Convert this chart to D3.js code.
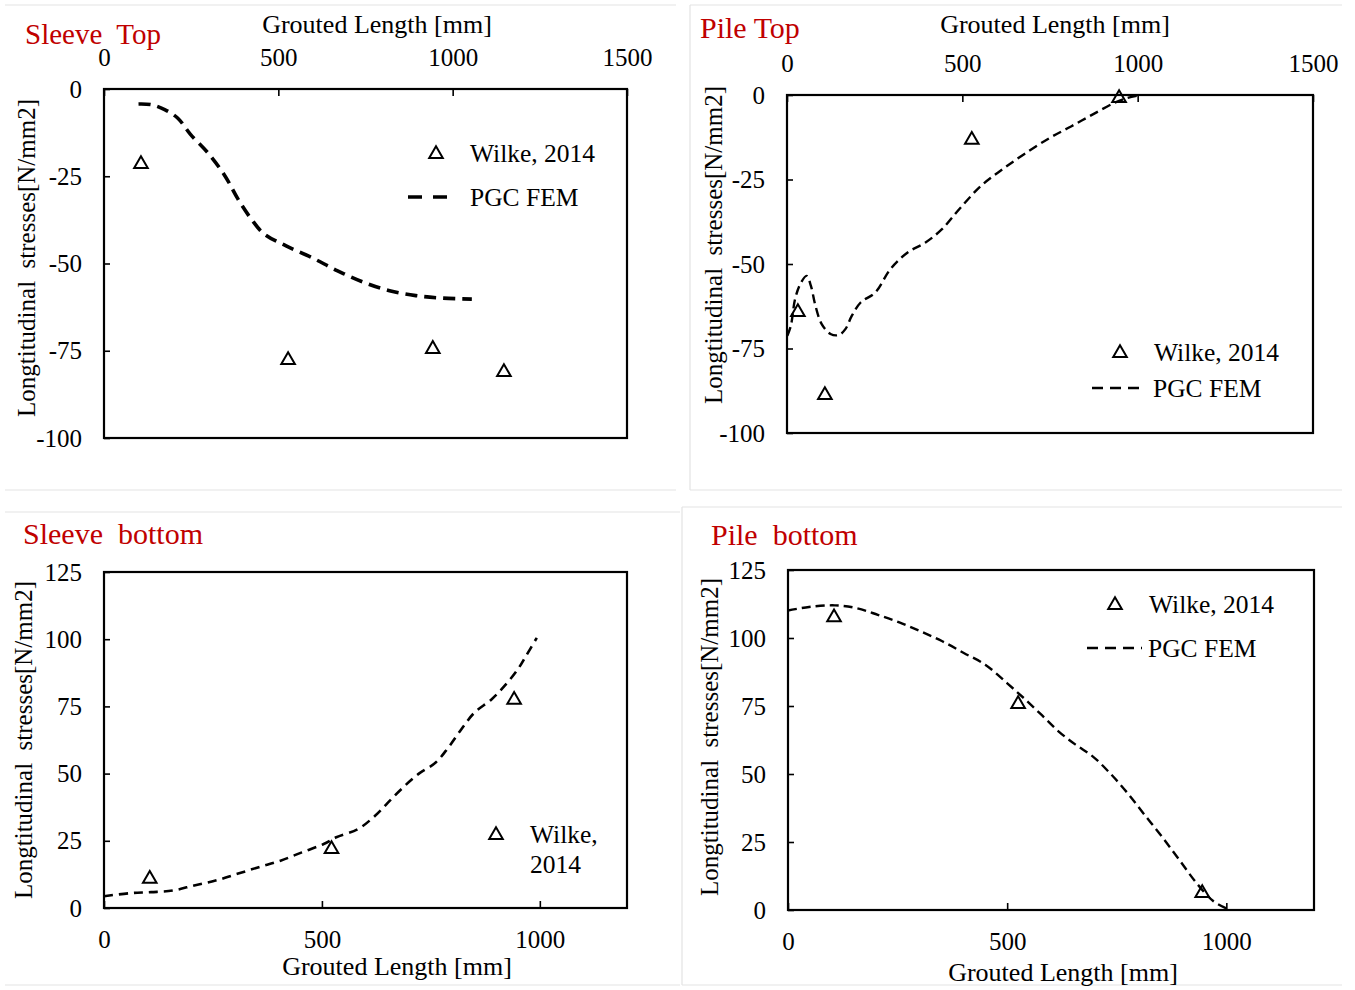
<!DOCTYPE html>
<html>
<head>
<meta charset="utf-8">
<script src="https://cdn.jsdelivr.net/npm/d3@7"></script>
<style>
  body { margin: 0; background: #fff; }
  text { font-family: "Liberation Serif", "Times New Roman", serif; white-space: pre; }
</style>
</head>
<body>
<svg id="chart" width="1355" height="990"></svg>
<script>
// tick values
const topXTicks = [0, 500, 1000, 1500];
const bottomXTicks = [0, 500, 1000];
const negYTicks = [0, -25, -50, -75, -100];
const posYTicks = [0, 25, 50, 75, 100, 125];

const panelTitles = ["Sleeve  Top", "Pile Top", "Sleeve  bottom", "Pile  bottom"];
const xTitle = "Grouted Length [mm]";
const yTitle = "Longtitudinal  stresses[N/mm2]";
const testName = "Wilke, 2014";
const femName = "PGC FEM";

// [grouted length mm, stress N/mm2]
const sleeveTopWilke = [[106, -21.2], [528, -77.4], [943, -74.2], [1147, -80.8]];
const sleeveTopFem = [[99, -4.3], [136, -4.5], [174, -5.9], [211, -8.3], [248, -13], [298, -18.3],
  [347, -24.9], [384, -31.5], [422, -37.2], [459, -41.5], [521, -44.9], [596, -48.3],
  [670, -52.1], [745, -55.4], [819, -57.8], [894, -59.2], [968, -59.9], [1055, -60.2]];

const pileTopWilke = [[31, -63.9], [108, -88.5], [527, -13], [947, -0.6]];
const pileTopFem = [[1, -71.2], [11, -68.3], [23, -60.4], [38, -55.9], [56, -53.5], [68, -56.4],
  [81, -62.3], [99, -67.8], [124, -70.7], [148, -71], [167, -69.2], [185, -65.3], [210, -61.4],
  [252, -58.4], [295, -51.5], [344, -46.6], [394, -43.7], [442, -39.7], [491, -33.8],
  [553, -26.9], [614, -22], [675, -17.6], [749, -12.7], [810, -9.3], [871, -5.8],
  [932, -2.4], [969, -0.9], [1000, -0.2]];

const sleeveBottomWilke = [[105, 11.2], [522, 22.3], [941, 77.8]];
const sleeveBottomFem = [[0, 4.4], [59, 5.5], [108, 5.9], [158, 6.5], [207, 8.4], [256, 10.2],
  [306, 12.7], [355, 15.2], [405, 17.6], [454, 20.7], [504, 23.8], [533, 26.3], [583, 29.4],
  [622, 34.3], [652, 39.3], [682, 44.2], [721, 49.8], [761, 54.1], [790, 59.7], [820, 66.5],
  [850, 72.7], [889, 77.6], [919, 82.6], [949, 88.7], [968, 93.7], [993, 100.5]];

const pileBottomWilke = [[105, 108], [525, 76.1], [945, 6.6]];
const pileBottomFem = [[0, 110.1], [48, 111.4], [107, 112], [156, 111], [205, 108.5], [254, 105.7],
  [303, 102.4], [352, 98.8], [401, 94.5], [450, 90.2], [499, 83.5], [538, 77.9], [578, 71.8],
  [617, 65.7], [656, 60.8], [695, 56.5], [734, 50.4], [774, 43.1], [813, 35.1], [852, 27.2],
  [892, 18.6], [931, 10.1], [970, 3.3], [1000, 0.6]];

const svg = d3.select("#chart");

// faint frames around the four pasted figures
const frames = [
  [[5, 5], [676, 5]], [[5, 490], [676, 490]],
  [[690, 5], [1342, 5]], [[690, 5], [690, 490]], [[690, 490], [1342, 490]],
  [[5, 512], [680, 512]], [[5, 985], [680, 985]],
  [[682, 507], [1342, 507]], [[682, 507], [682, 985]], [[682, 985], [1342, 985]]
];
svg.append("g").selectAll("line").data(frames).enter().append("line")
  .attr("x1", d => d[0][0]).attr("y1", d => d[0][1])
  .attr("x2", d => d[1][0]).attr("y2", d => d[1][1])
  .attr("stroke", "#e3e3e3").attr("stroke-width", 1.2);

const panels = [
  { title: panelTitles[0], titleSize: 29, titlePos: [25, 44], box: [104, 89, 523, 349], xDom: [0, 1500], xTicks: topXTicks,
    yDom: [-100, 0], yTicks: negYTicks, xAxisTop: true, xTitlePos: [377, 33], yTitlePos: [26, 258],
    test: sleeveTopWilke, fem: sleeveTopFem, femWidth: 3.6, dash: "12,7",
    legend: { tri: [436, 153], text: [470, 153], line: [[408, 452], 197], text2: [470, 197], dash2: "14,11" } },
  { title: panelTitles[1], titleSize: 30, titlePos: [700, 38], box: [787, 95, 526, 338], xDom: [0, 1500], xTicks: topXTicks,
    yDom: [-100, 0], yTicks: negYTicks, xAxisTop: true, xTitlePos: [1055, 33], yTitlePos: [713, 245],
    test: pileTopWilke, fem: pileTopFem, femWidth: 2.4, dash: "9,5",
    legend: { tri: [1120, 352], text: [1154, 352], line: [[1092, 1146], 388], text2: [1153, 388], dash2: "11,7" } },
  { title: panelTitles[2], titleSize: 30, titlePos: [23, 544], box: [104, 572, 523, 336], xDom: [0, 1200], xTicks: bottomXTicks,
    yDom: [0, 125], yTicks: posYTicks, xAxisTop: false, xTitlePos: [397, 975], yTitlePos: [23, 740],
    test: sleeveBottomWilke, fem: sleeveBottomFem, femWidth: 2.6, dash: "9,6",
    legend: { tri: [496, 834], text: [530, 834], text2: [530, 864], split: true } },
  { title: panelTitles[3], titleSize: 30, titlePos: [711, 545], box: [788, 570, 526, 340], xDom: [0, 1200], xTicks: bottomXTicks,
    yDom: [0, 125], yTicks: posYTicks, xAxisTop: false, xTitlePos: [1063, 981], yTitlePos: [709, 737],
    test: pileBottomWilke, fem: pileBottomFem, femWidth: 2.4, dash: "9,5",
    legend: { tri: [1115, 604], text: [1149, 604], line: [[1087, 1142], 648], text2: [1148, 648], dash2: "11,7" } }
];

const tri = d3.symbol().type(d3.symbolTriangle).size(80);

function drawPanel(p) {
  const [left, top, w, h] = p.box;
  const g = svg.append("g");
  const x = d3.scaleLinear().domain(p.xDom).range([left, left + w]);
  const y = d3.scaleLinear().domain(p.yDom).range([top + h, top]);

  // axes with inside ticks
  const xAxis = (p.xAxisTop ? d3.axisTop(x) : d3.axisBottom(x))
    .tickValues(p.xTicks).tickSize(-7).tickPadding(p.xAxisTop ? 23 : 22).tickFormat(d => String(d));
  const gx = g.append("g")
    .attr("transform", "translate(0," + (p.xAxisTop ? top : top + h) + ")")
    .call(xAxis);
  const yAxis = d3.axisLeft(y).tickValues(p.yTicks).tickSize(-6).tickPadding(22)
    .tickFormat(d => String(d));
  const gy = g.append("g").attr("transform", "translate(" + left + ",0)").call(yAxis);
  [gx, gy].forEach(a => {
    a.select(".domain").remove();
    a.selectAll("line").attr("stroke", "#000").attr("stroke-width", 1.6);
    a.selectAll("text").attr("font-size", 25).attr("fill", "#000")
      .style("font-family", "'Liberation Serif', serif");
  });

  g.append("rect").attr("x", left).attr("y", top).attr("width", w).attr("height", h)
    .attr("fill", "none").attr("stroke", "#000").attr("stroke-width", 2.2);

  // FEM curve
  const line = d3.line().x(d => x(d[0])).y(d => y(d[1])).curve(d3.curveCatmullRom);
  g.append("path").datum(p.fem).attr("d", line)
    .attr("fill", "none").attr("stroke", "#000")
    .attr("stroke-width", p.femWidth).attr("stroke-dasharray", p.dash);

  // test points
  g.selectAll(".pt").data(p.test).enter().append("path")
    .attr("class", "pt").attr("d", tri)
    .attr("transform", d => "translate(" + x(d[0]) + "," + (y(d[1]) + 1) + ")")
    .attr("fill", "none").attr("stroke", "#000").attr("stroke-width", 2);

  // titles
  g.append("text").attr("x", p.titlePos[0]).attr("y", p.titlePos[1])
    .attr("font-size", p.titleSize).attr("fill", "#C00000").text(p.title);
  g.append("text").attr("x", p.xTitlePos[0]).attr("y", p.xTitlePos[1])
    .attr("text-anchor", "middle").attr("font-size", 26).text(xTitle);
  g.append("text")
    .attr("transform", "translate(" + p.yTitlePos[0] + "," + p.yTitlePos[1] + ") rotate(-90)")
    .attr("text-anchor", "middle").attr("dy", "0.35em").attr("font-size", 25).text(yTitle);

  // legend
  const L = p.legend;
  g.append("path").attr("d", tri)
    .attr("transform", "translate(" + L.tri[0] + "," + (L.tri[1] + 1) + ")")
    .attr("fill", "none").attr("stroke", "#000").attr("stroke-width", 2);
  if (L.split) {
    g.append("text").attr("x", L.text[0]).attr("y", L.text[1]).attr("dy", "0.35em")
      .attr("font-size", 25.5).text("Wilke,");
    g.append("text").attr("x", L.text2[0]).attr("y", L.text2[1]).attr("dy", "0.35em")
      .attr("font-size", 25.5).text("2014");
  } else {
    g.append("text").attr("x", L.text[0]).attr("y", L.text[1]).attr("dy", "0.35em")
      .attr("font-size", 25.5).text(testName);
    g.append("line").attr("x1", L.line[0][0]).attr("x2", L.line[0][1])
      .attr("y1", L.line[1]).attr("y2", L.line[1])
      .attr("stroke", "#000").attr("stroke-width", p.femWidth).attr("stroke-dasharray", L.dash2);
    g.append("text").attr("x", L.text2[0]).attr("y", L.text2[1]).attr("dy", "0.35em")
      .attr("font-size", 25.5).text(femName);
  }
}

panels.forEach(drawPanel);
</script>
</body>
</html>
